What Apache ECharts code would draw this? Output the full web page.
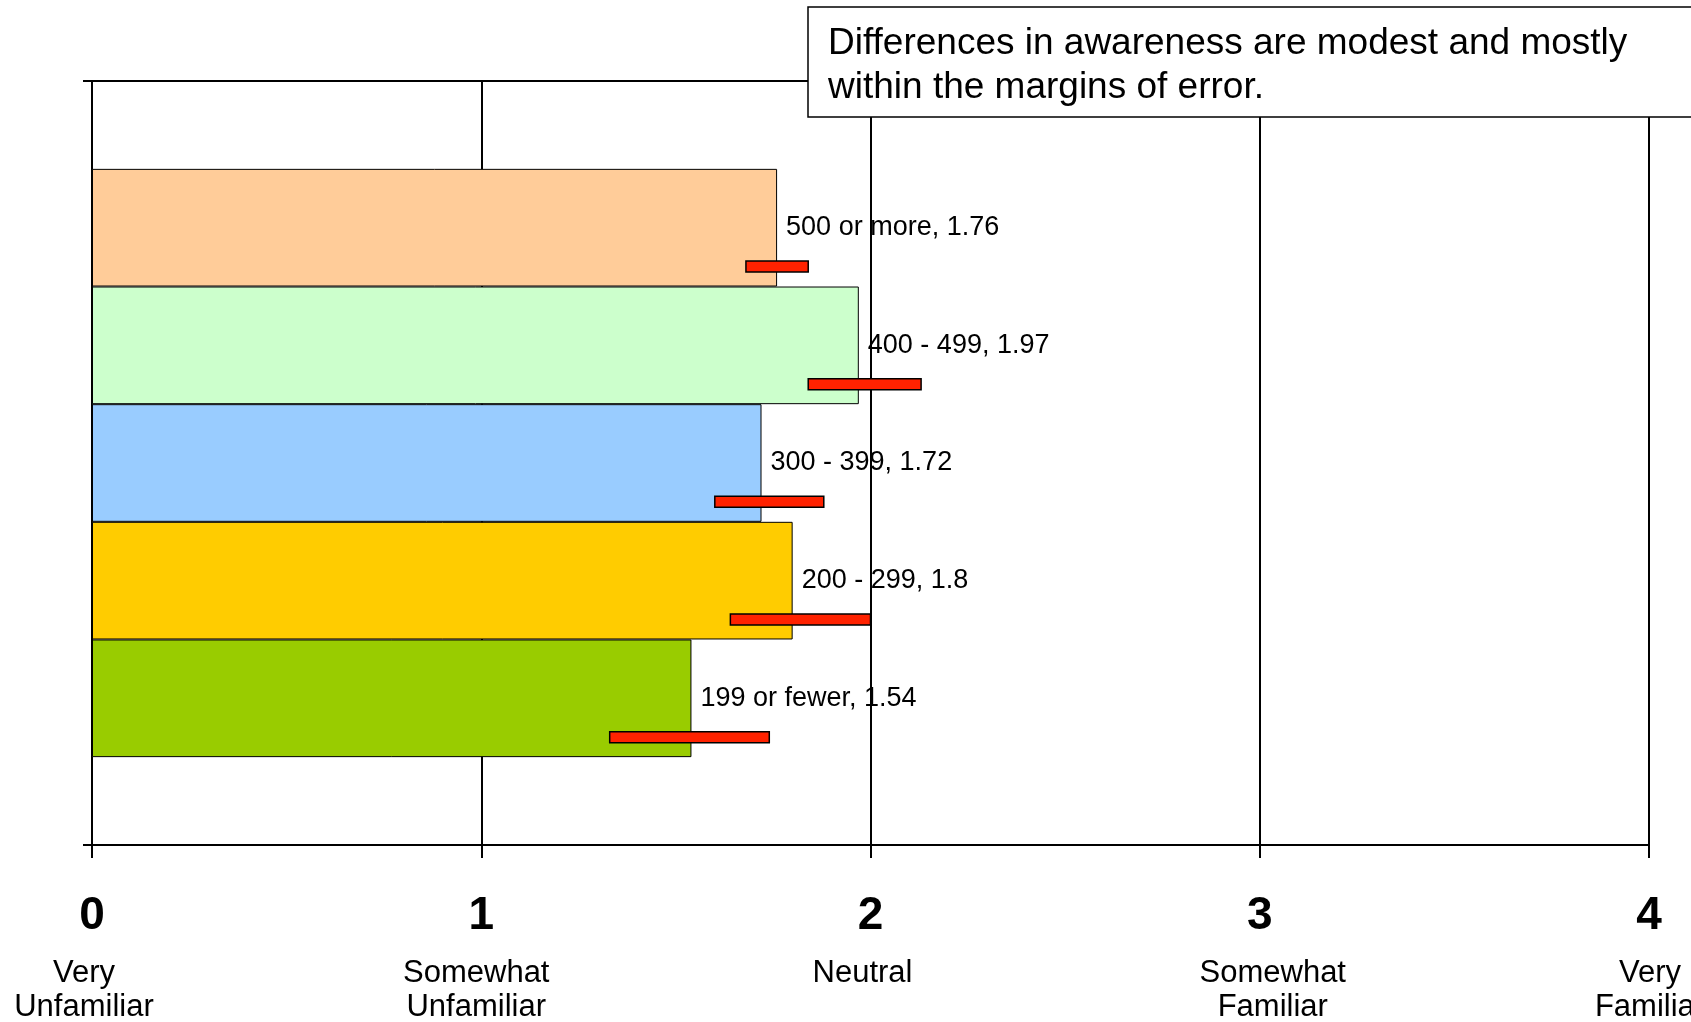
<!DOCTYPE html>
<html>
<head>
<meta charset="utf-8">
<script src="https://cdn.jsdelivr.net/npm/echarts@6/dist/echarts.min.js"></script>
<style>
html,body{margin:0;padding:0;background:#fff;}
#chart{width:1691px;height:1022px;}
</style>
</head>
<body>
<div id="chart"></div>
<script>
// ---- data ----
var groupNames = ['500 or more', '400 - 499', '300 - 399', '200 - 299', '199 or fewer'];
var groupValues = [1.76, 1.97, 1.72, 1.8, 1.54];
var errorLow = [1.68, 1.84, 1.60, 1.64, 1.33];
var errorHigh = [1.84, 2.13, 1.88, 2.00, 1.74];
var groupColors = ['#FFCC99', '#CCFFCC', '#99CCFF', '#FFCC00', '#99CC00'];
var tickValues = [0, 1, 2, 3, 4];
var tickDescriptions = [['Very', 'Unfamiliar'], ['Somewhat', 'Unfamiliar'], ['Neutral'], ['Somewhat', 'Familiar'], ['Very', 'Familiar']];
var noteText = 'Differences in awareness are modest and mostly\nwithin the margins of error.';

var FONT = "'Liberation Sans', Arial, Helvetica, sans-serif";
var CAT_GAP = 0.23;
var descShift = [-8, -5, -8, 13, 1];

var rich = {
  n: {fontSize: 46, fontWeight: 'bold', fontFamily: FONT, color: '#000', lineHeight: 80}
};
descShift.forEach(function (s, i) {
  rich['d' + i] = {
    fontSize: 31, fontFamily: FONT, color: '#000', lineHeight: 34,
    padding: s < 0 ? [0, -2 * s, 0, 0] : [0, 0, 0, 2 * s]
  };
});

var series = groupNames.map(function (name, i) {
  return {
    name: name,
    type: 'bar',
    data: [groupValues[i]],
    barGap: '0%',
    barCategoryGap: (CAT_GAP * 100) + '%',
    itemStyle: {color: groupColors[i], borderColor: '#000', borderWidth: 1},
    label: {
      show: true, position: 'right', distance: 9,
      formatter: '{a}, {c}',
      fontSize: 27, fontFamily: FONT, color: '#000'
    },
    emphasis: {disabled: true},
    z: 2
  };
});

series.push({
  type: 'custom',
  name: 'error',
  data: errorLow.map(function (lo, i) { return [lo, errorHigh[i]]; }),
  encode: {x: [0, 1]},
  z: 5,
  renderItem: function (params, api) {
    var i = params.dataIndex;
    var n = groupNames.length;
    var center = api.coord([0, 0]);
    var band = api.size([0, 1])[1];
    var total = band * (1 - CAT_GAP);
    var barH = total / n;
    var top = center[1] - total / 2;
    var yc = top + (i + 0.83) * barH;
    var x1 = api.coord([api.value(0), 0])[0];
    var x2 = api.coord([api.value(1), 0])[0];
    var h = 11;
    return {
      type: 'rect',
      shape: {x: x1, y: yc - h / 2, width: x2 - x1, height: h},
      style: {fill: '#FF2200', stroke: '#000', lineWidth: 1.5}
    };
  }
});

var chart = echarts.init(document.getElementById('chart'), null, {renderer: 'canvas'});
chart.setOption({
  animation: false,
  backgroundColor: '#fff',
  title: {
    text: noteText,
    left: 808, top: 7,
    padding: [15, 150, 7, 20],
    backgroundColor: '#fff',
    borderColor: '#000',
    borderWidth: 1.5,
    textStyle: {fontSize: 37, fontWeight: 'normal', fontFamily: FONT, color: '#000', lineHeight: 44},
    z: 10
  },
  grid: {
    left: 92, right: 42, top: 81, bottom: 177,
    containLabel: false,
    outerBoundsMode: 'none',
    show: true, borderColor: '#000', borderWidth: 2, backgroundColor: 'transparent'
  },
  xAxis: {
    type: 'value', min: 0, max: 4, interval: 1,
    axisLine: {show: true, lineStyle: {color: '#000', width: 2}},
    axisTick: {show: true, length: 13, lineStyle: {color: '#000', width: 2}},
    splitLine: {show: true, lineStyle: {color: '#000', width: 2}},
    axisLabel: {
      margin: 31,
      hideOverlap: false,
      formatter: function (v) {
        var i = tickValues.indexOf(v);
        var lines = tickDescriptions[i].map(function (t) { return '{d' + i + '|' + t + '}'; });
        return '{n|' + v + '}\n' + lines.join('\n');
      },
      rich: rich
    }
  },
  yAxis: {
    type: 'category', data: ['Awareness'],
    axisLine: {show: true, lineStyle: {color: '#000', width: 2}},
    axisTick: {show: true, length: 9, lineStyle: {color: '#000', width: 2}},
    axisLabel: {show: false},
    splitLine: {show: false}
  },
  series: series
});
</script>
</body>
</html>
